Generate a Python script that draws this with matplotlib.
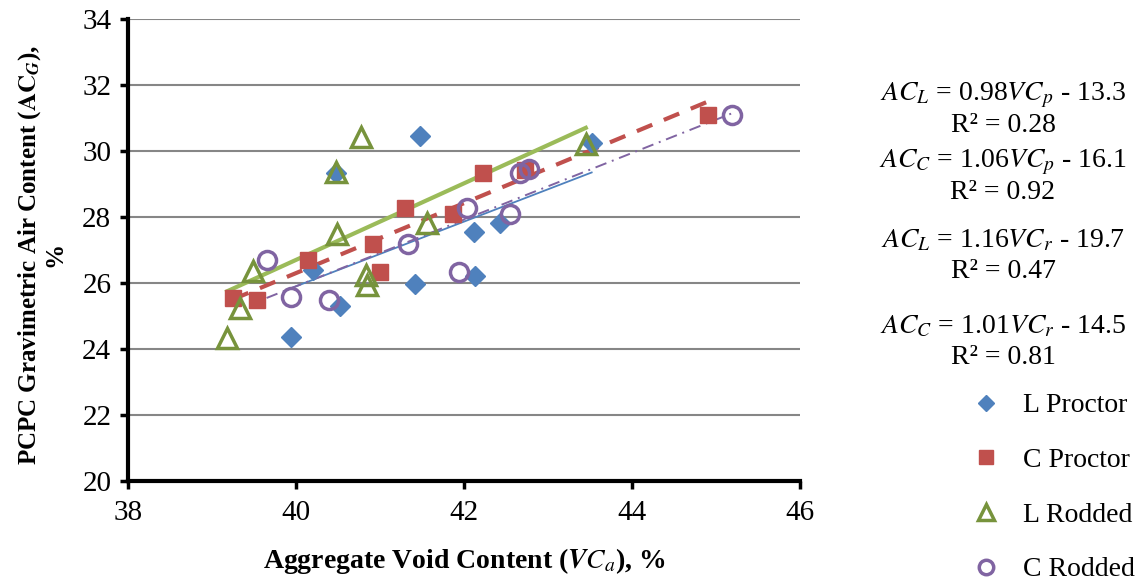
import matplotlib.pyplot as plt
import numpy as np

plt.rcParams['font.family'] = ['Liberation Serif', 'DejaVu Serif']
plt.rcParams['mathtext.fontset'] = 'stix'

# data
lp_x = [39.94, 40.20, 40.52, 40.48, 41.48, 41.42, 42.12, 42.13, 42.43, 43.52]
lp_y = [24.36, 26.40, 25.30, 29.33, 30.45, 25.97, 27.55, 26.20, 27.82, 30.24]
cp_x = [39.25, 39.54, 40.14, 40.92, 41.00, 41.30, 41.87, 42.23, 42.73, 44.90]
cp_y = [25.55, 25.48, 26.70, 27.18, 26.32, 28.27, 28.10, 29.32, 29.42, 31.09]
lr_x = [39.18, 39.33, 39.49, 40.49, 40.48, 40.77, 40.83, 40.85, 41.56, 43.45]
lr_y = [24.33, 25.24, 26.36, 27.48, 29.36, 30.42, 26.24, 25.95, 27.82, 30.20]
cr_x = [39.65, 39.94, 40.39, 41.33, 41.94, 42.04, 42.55, 42.67, 42.77, 45.19]
cr_y = [26.70, 25.58, 25.48, 27.18, 26.33, 28.27, 28.10, 29.33, 29.45, 31.09]

labels = ['L Proctor', 'C Proctor', 'L Rodded', 'C Rodded']
slopes = [0.98, 1.06, 1.16, 1.01]
intercepts = [-13.3, -16.1, -19.7, -14.5]
r2 = [0.28, 0.92, 0.47, 0.81]

fig = plt.figure(figsize=(11.43, 5.84), dpi=100)
ax = fig.add_axes([128 / 1143, 1 - 481 / 584, 672 / 1143, 462 / 584])

xs = [lp_x, cp_x, lr_x, cr_x]
ys = [lp_y, cp_y, lr_y, cr_y]

# trend lines
line_styles = [
    dict(color='#4F81BD', lw=1.3, ls='-'),
    dict(color='#C0504D', lw=3, ls=(0, (4, 3))),
    dict(color='#9BBB59', lw=3, ls='-'),
    dict(color='#8064A2', lw=1.4, ls=(0, (6, 3, 1, 3))),
]
for i in range(4):
    x0, x1 = min(xs[i]), max(xs[i])
    tx = np.array([x0, x1])
    ax.plot(tx, slopes[i] * tx + intercepts[i], zorder=3, **line_styles[i])

ax.plot(lp_x, lp_y, 'D', ms=10, color='#4F81BD', ls='none', label=labels[0], zorder=4)
ax.plot(cp_x, cp_y, 's', ms=12, color='#C0504D', ls='none', label=labels[1], zorder=4)
ax.plot(lr_x, lr_y, '^', ms=15, mfc='none', mec='#77933C', mew=2.5, ls='none',
        label=labels[2], zorder=4)
ax.plot(cr_x, cr_y, 'o', ms=13, mfc='none', mec='#8064A2', mew=2.5, ls='none',
        label=labels[3], zorder=4)

ax.set_xlim(38, 46)
ax.set_ylim(20, 34)
ax.set_xticks(range(38, 47, 2))
ax.set_yticks(range(20, 35, 2))
ax.yaxis.grid(True, color='#868686', lw=1.5)
ax.set_axisbelow(True)
for s in ['top', 'right']:
    ax.spines[s].set_visible(False)
for s in ['left', 'bottom']:
    ax.spines[s].set_linewidth(3)
ax.tick_params(direction='out', length=6, width=2.5, labelsize=21)
ax.tick_params(axis='x', pad=8)
ax.tick_params(axis='y', pad=6)

ax.set_xlabel(r'Aggregate Void Content ($\boldsymbol{VC_a}$), %', fontsize=20,
              fontweight='bold')
ax.xaxis.set_label_coords(0.5, -0.14)
ax.set_ylabel('PCPC Gravimetric Air Content ($\\mathbf{AC}_{\\boldsymbol{G}}$),\n%',
              fontsize=18, fontweight='bold', linespacing=1.0)
ax.yaxis.set_label_coords(-0.092, 0.49)

subs = ['L', 'C', 'L', 'C']
vsub = ['p', 'p', 'r', 'r']
eq_y = [95, 162, 241, 327]
for i in range(4):
    eq = r'$AC_{%s}$ = %.2f$VC_{%s}$ - %.1f' % (subs[i], slopes[i], vsub[i], -intercepts[i])
    fig.text(1003 / 1143, 1 - eq_y[i] / 584, eq, fontsize=20, ha='center', va='center')
    fig.text(1003 / 1143, 1 - (eq_y[i] + 31) / 584, 'R² = %.2f' % r2[i], fontsize=20,
             ha='center', va='center')

fig.legend(loc='upper left', bbox_to_anchor=(942 / 1143, 1 - 368 / 584), frameon=False,
           fontsize=20, labelspacing=1.05, handletextpad=0.6, handlelength=1.4,
           markerscale=0.8)

fig.savefig('out.png', dpi=100)
